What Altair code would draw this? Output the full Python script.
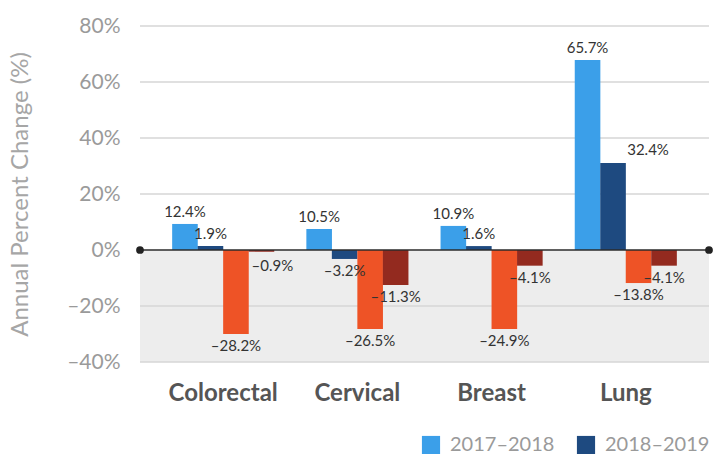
import altair as alt
import pandas as pd

categories = ["Colorectal", "Cervical", "Breast", "Lung"]
periods = ["2017–2018", "2018–2019", "2019–2020", "2020–2021"]
colors = ["#3b9fe9", "#1e4a80", "#ee5326", "#932a1f"]

# bar heights as drawn (percent)
v_2017_2018 = [9.3, 7.5, 8.6, 67.9]
v_2018_2019 = [1.4, -3.2, 1.4, 31.1]
v_2019_2020 = [-30.0, -28.2, -28.2, -11.8]
v_2020_2021 = [-0.6, -12.5, -5.6, -5.6]

# printed labels
l_2017_2018 = ["12.4%", "10.5%", "10.9%", "65.7%"]
l_2018_2019 = ["1.9%", "–3.2%", "1.6%", "32.4%"]
l_2019_2020 = ["–28.2%", "–26.5%", "–24.9%", "–13.8%"]
l_2020_2021 = ["–0.9%", "–11.3%", "–4.1%", "–4.1%"]

grid_ticks = [-40, -20, 20, 40, 60, 80]
axis_ticks = [-40, -20, 0, 20, 40, 60, 80]

rows = []
for p, vals, labs in zip(periods,
                         [v_2017_2018, v_2018_2019, v_2019_2020, v_2020_2021],
                         [l_2017_2018, l_2018_2019, l_2019_2020, l_2020_2021]):
    for c, v, l in zip(categories, vals, labs):
        rows.append({"category": c, "period": p, "value": v, "label": l})
df = pd.DataFrame(rows)
grid_df = pd.DataFrame({"v": grid_ticks})

W, H = 569, 336
FONT = "Lato"
YTITLE = "Annual Percent Change (%)"

x_enc = alt.X("category:N", sort=categories,
              scale=alt.Scale(paddingInner=0.24, paddingOuter=0.24),
              axis=alt.Axis(title=None, labelFont=FONT, labelFontWeight="bold",
                            labelFontSize=24, labelColor="#555555", labelPadding=19,
                            ticks=False, domain=False, labelAngle=0, grid=False))
xoff_enc = alt.XOffset("period:N", sort=periods,
                       scale=alt.Scale(paddingInner=0, paddingOuter=0))
y_scale = alt.Scale(domain=[-40, 80], nice=False)
y_axis = alt.Axis(values=axis_ticks, grid=False, ticks=False, domain=False,
                  labelExpr="replace(datum.value + '%', '-', '–')",
                  labelFont=FONT, labelFontSize=21, labelColor="#9a9a9a",
                  labelPadding=20, title=YTITLE, titleFont=FONT,
                  titleFontSize=24, titleFontWeight="normal", titleColor="#a6a6a6",
                  titlePadding=34)

bg = alt.Chart(pd.DataFrame({"a": [0]})).mark_rect(color="#ededed").encode(
    x=alt.value(0), x2=alt.value(W),
    y=alt.Y(datum=0, scale=y_scale, title=YTITLE), y2=alt.datum(-40))

grid = alt.Chart(grid_df).mark_rule(color="#d6d6d6", strokeWidth=1.5).encode(
    y=alt.Y("v:Q", scale=y_scale, title=YTITLE))

bars = alt.Chart(df).mark_bar(size=25.6).encode(
    x=x_enc, xOffset=xoff_enc,
    y=alt.Y("value:Q", scale=y_scale, axis=y_axis),
    color=alt.Color("period:N", sort=periods,
                    scale=alt.Scale(domain=periods, range=colors),
                    legend=alt.Legend(values=periods[:2], title=None, orient="none",
                                      legendX=281, legendY=409, direction="horizontal",
                                      symbolType="square", symbolSize=330,
                                      symbolStrokeWidth=0, symbolOpacity=1,
                                      labelFontSize=20, labelColor="#9a9a9a",
                                      labelFont=FONT, columnPadding=21,
                                      labelOffset=9)))

zero = alt.Chart(pd.DataFrame({"a": [0]})).mark_rule(color="#2b2b2b", strokeWidth=1.5).encode(
    y=alt.Y(datum=0, scale=y_scale, title=YTITLE))
dots = alt.Chart(pd.DataFrame({"px": [0, W]})).mark_point(
    filled=True, color="#222222", size=60, opacity=1).encode(
    x=alt.X("px:Q", scale=None, axis=None),
    y=alt.Y(datum=0, scale=y_scale, title=YTITLE))

special = "(datum.category == 'Lung' && datum.period == '2018–2019') || (datum.category == 'Colorectal' && datum.period == '2020–2021')"

def txt(filt, dy, dx=0):
    return alt.Chart(df).transform_filter(filt).mark_text(
        font=FONT, fontSize=15, color="#333333", baseline="middle", dy=dy, dx=dx).encode(
        x=x_enc, xOffset=xoff_enc,
        y=alt.Y("value:Q", scale=y_scale, title=YTITLE), text="label:N")

t_pos = txt(f"datum.value >= 0 && !({special})", -12)
t_neg = txt(f"datum.value < 0 && !({special})", 12)
t_lung = txt("datum.category == 'Lung' && datum.period == '2018–2019'", -13, 35)
t_col = txt("datum.category == 'Colorectal' && datum.period == '2020–2021'", 14, 11)

chart = alt.layer(bg, grid, bars, zero, dots, t_pos, t_neg, t_lung, t_col).properties(
    width=W, height=H,
    autosize=alt.AutoSizeParams(type="none"),
    padding={"left": 140, "top": 26, "right": 4, "bottom": 92},
).configure_view(stroke=None)

chart.save("out.html", embed_options={"renderer": "svg", "actions": False})
